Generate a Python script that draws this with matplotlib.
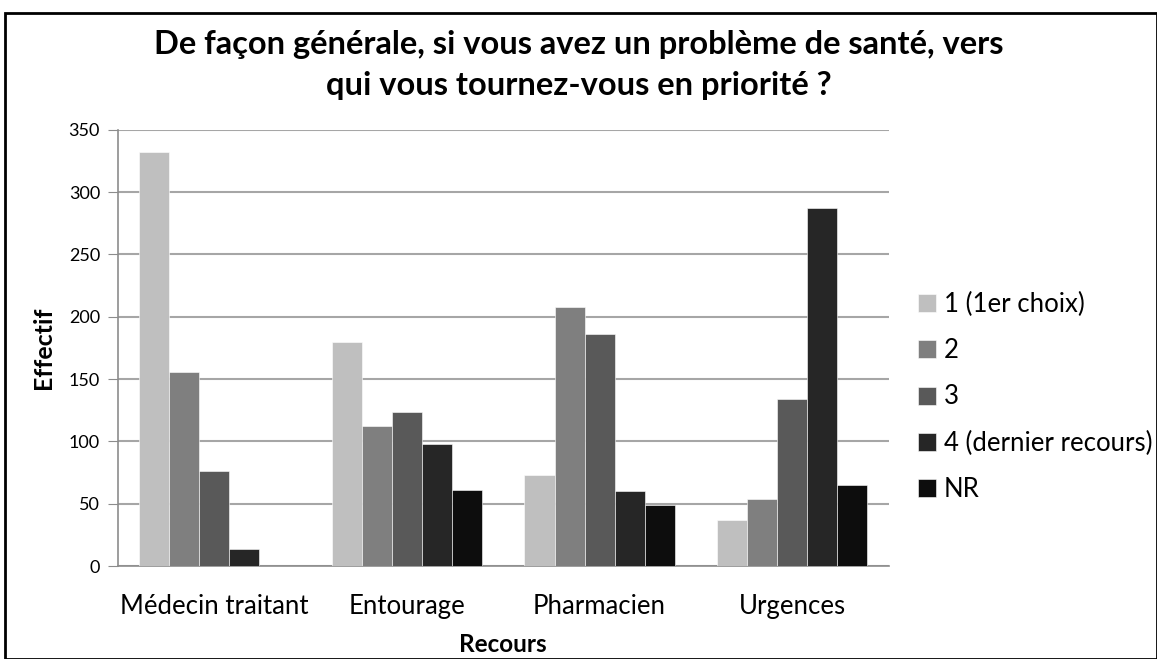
import numpy as np
import matplotlib
matplotlib.use("Agg")
import matplotlib.pyplot as plt
from matplotlib.patches import Rectangle

plt.rcParams['font.family'] = ['Lato', 'DejaVu Sans']

categories = ['Médecin traitant', 'Entourage', 'Pharmacien', 'Urgences']
series_names = ['1 (1er choix)', '2', '3', '4 (dernier recours)', 'NR']
rang1 = [332, 180, 73, 37]
rang2 = [156, 112, 208, 54]
rang3 = [76, 124, 186, 134]
rang4 = [14, 98, 60, 287]
non_rep = [0, 61, 49, 65]
couleurs = ['#BFBFBF', '#7F7F7F', '#595959', '#262626', '#0D0D0D']

fig = plt.figure(figsize=(11.57, 6.59), dpi=100)
ax = fig.add_axes([0.102, 0.141, 0.666, 0.662])

x = np.arange(len(categories))
w = 0.156
for i, vals in enumerate([rang1, rang2, rang3, rang4, non_rep]):
    ax.bar(x + (i - 2) * w, vals, w, color=couleurs[i], label=series_names[i],
           edgecolor='white', linewidth=0.4, zorder=3)

ax.set_xlim(-0.5, 3.5)
ax.set_ylim(0, 350)
ax.set_yticks(range(0, 351, 50))
ax.set_xticks(x)
ax.set_xticklabels(categories, fontsize=18.5)
ax.tick_params(axis='x', length=0, pad=20)
ax.tick_params(axis='y', labelsize=13, length=7, color='#8C8C8C', pad=6)
ax.grid(axis='y', color='#A6A6A6', linewidth=1.5, zorder=0)
for s in ['top', 'right']:
    ax.spines[s].set_visible(False)
for s in ['left', 'bottom']:
    ax.spines[s].set_color('#8C8C8C')
    ax.spines[s].set_linewidth(1.2)

ax.set_xlabel('Recours', fontsize=17.5, fontweight='bold', labelpad=10)
ax.set_ylabel('Effectif', fontsize=18, fontweight='bold', labelpad=10)

fig.suptitle('De façon générale, si vous avez un problème de santé, vers\nqui vous tournez-vous en priorité ?',
             fontsize=23.5, fontweight='bold', y=0.955, linespacing=1.5)

ax.legend(loc='center left', bbox_to_anchor=(918 / 1157, (659 - 397) / 659),
          bbox_transform=fig.transFigure, frameon=False,
          fontsize=18.5, handlelength=0.7, handleheight=0.7, handletextpad=0.3,
          labelspacing=0.82, borderaxespad=0, borderpad=0)

fig.add_artist(Rectangle((5 / 1157, 0), 1 - 5 / 1157, (659 - 13) / 659,
                         transform=fig.transFigure, fill=False,
                         edgecolor='black', linewidth=2))

fig.savefig('out.png', dpi=100)
